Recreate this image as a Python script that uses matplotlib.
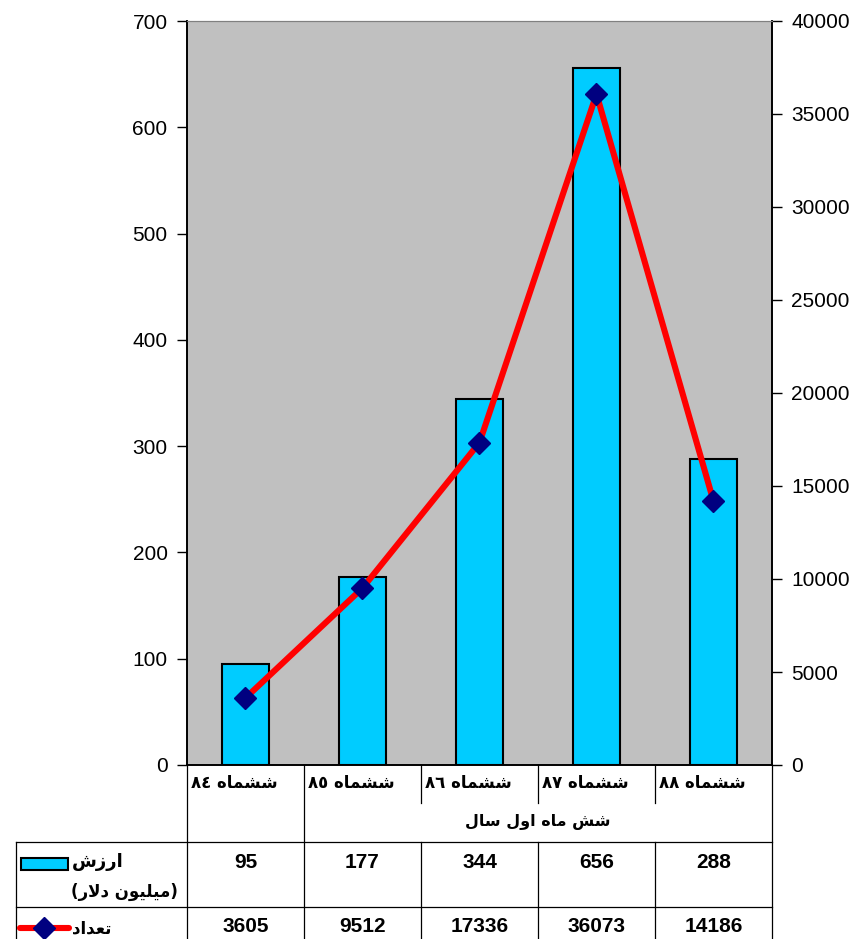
import matplotlib
matplotlib.use('Agg')
import matplotlib.pyplot as plt
from matplotlib.lines import Line2D
from matplotlib.patches import Rectangle

plt.rcParams['font.family'] = ['Liberation Sans', 'DejaVu Sans']

# ---------- data ----------
periods = ['\u0668\u0664', '\u0668\u0665', '\u0668\u0666', '\u0668\u0667', '\u0668\u0668']  # 84..88
values = [95, 177, 344, 656, 288]            # million dollars
counts = [3605, 9512, 17336, 36073, 14186]
left_ticks = list(range(0, 701, 100))
right_ticks = list(range(0, 40001, 5000))

# matplotlib does no arabic shaping, so words are pre-shaped (visual order)
w_shishmah = '\uFEE9\uFE8E\uFEE4\uFEB8\uFEB7'                       # ششماه
w_group = ('\uFEDD\uFE8E\uFEB3 \uFEDD\uFEED\uFE8D '
           '\uFEE9\uFE8E\uFEE3 \uFEB6\uFEB7')                      # شش ماه اول سال
w_value = '\uFEB5\uFEAF\uFEAD\uFE8D'                                 # ارزش
w_unit = '(\uFEAD\uFEFB\uFEA9 \uFEE5\uFEEE\uFEF4\uFEE0\uFEF4\uFEE3)'  # (میلیون دلار)
w_count = '\uFEA9\uFE8D\uFEAA\uFECC\uFE97'                           # تعداد
cat_labels = [p + ' ' + w_shishmah for p in periods]

BAR = '#00CCFF'
LINE = '#FF0000'
MARK = '#000080'
W, H = 853, 939

def fx(p):
    return p / W

def fy(p):
    return 1 - p / H

fig = plt.figure(figsize=(W / 100, H / 100), dpi=100)
ax = fig.add_axes([fx(187), fy(765), (772 - 187) / W, (765 - 21) / H])
ax.set_facecolor('#C0C0C0')
x = list(range(len(values)))
ax.bar(x, values, width=0.4, color=BAR, edgecolor='black', linewidth=1.5, zorder=2)
ax.set_xlim(-0.5, len(values) - 0.5)
ax.set_ylim(0, 700)
ax.set_yticks(left_ticks)
ax.set_xticks([])
ax.tick_params(axis='y', direction='out', length=7, width=1, labelsize=15, pad=7)

ax2 = ax.twinx()
ax2.plot(x, counts, color=LINE, lw=4.4, marker='D', ms=11, mfc=MARK, mec=MARK, zorder=3)
ax2.set_ylim(0, 40000)
ax2.set_yticks(right_ticks)
ax2.tick_params(axis='y', direction='out', length=7, width=1, labelsize=15, pad=7)

for a in (ax, ax2):
    a.spines['top'].set_color('#808080')
    a.spines['top'].set_linewidth(0.8)
    for s in ('left', 'right', 'bottom'):
        a.spines[s].set_linewidth(1.2)

# ---------- category labels + data table ----------
x0, cw = 187, (772 - 187) / len(values)
edges = [x0 + i * cw for i in range(len(values) + 1)]

def line(xs, ys, **kw):
    fig.add_artist(Line2D([fx(v) for v in xs], [fy(v) for v in ys],
                          color=kw.get('color', 'black'), lw=kw.get('lw', 0.9)))

for i, e in enumerate(edges):
    if i in (0, 1, len(edges) - 1):
        line([e, e], [765, 939])
    else:
        line([e, e], [765, 803])
        line([e, e], [842, 939])
line([16, 772], [842, 842])
line([16, 772], [907, 907])
line([16, 16], [842, 939])

for i, lab in enumerate(cat_labels):
    fig.text(fx(edges[i] + 4), fy(783), lab, ha='left', va='center',
             fontsize=12, fontweight='bold', family='DejaVu Sans')
fig.text(fx((edges[1] + edges[-1]) / 2), fy(822), w_group, ha='center', va='center',
         fontsize=11.5, fontweight='bold', family='DejaVu Sans')

for i in range(len(values)):
    cx = fx(edges[i] + cw / 2)
    fig.text(cx, fy(862), str(values[i]), ha='center', va='center',
             fontsize=15, fontweight='bold')
    fig.text(cx, fy(927), str(counts[i]), ha='center', va='center',
             fontsize=15, fontweight='bold')

# legend keys in the first column
fig.add_artist(Rectangle((fx(21), fy(870)), 47 / W, 12 / H, facecolor=BAR,
                         edgecolor='black', lw=1.5, transform=fig.transFigure))
fig.add_artist(Line2D([fx(20), fx(69)], [fy(928), fy(928)], color=LINE, lw=4.4,
                      solid_capstyle='round'))
fig.add_artist(Line2D([fx(44)], [fy(928)], marker='D', ms=11, color=MARK, lw=0))
fig.text(fx(72), fy(862), w_value, ha='left', va='center', fontsize=13,
         fontweight='bold', family='DejaVu Sans')
fig.text(fx(178), fy(892), w_unit, ha='right', va='center', fontsize=12,
         fontweight='bold', family='DejaVu Sans')
fig.text(fx(72), fy(928), w_count, ha='left', va='center', fontsize=12,
         fontweight='bold', family='DejaVu Sans')

fig.savefig('out.png', dpi=100)
